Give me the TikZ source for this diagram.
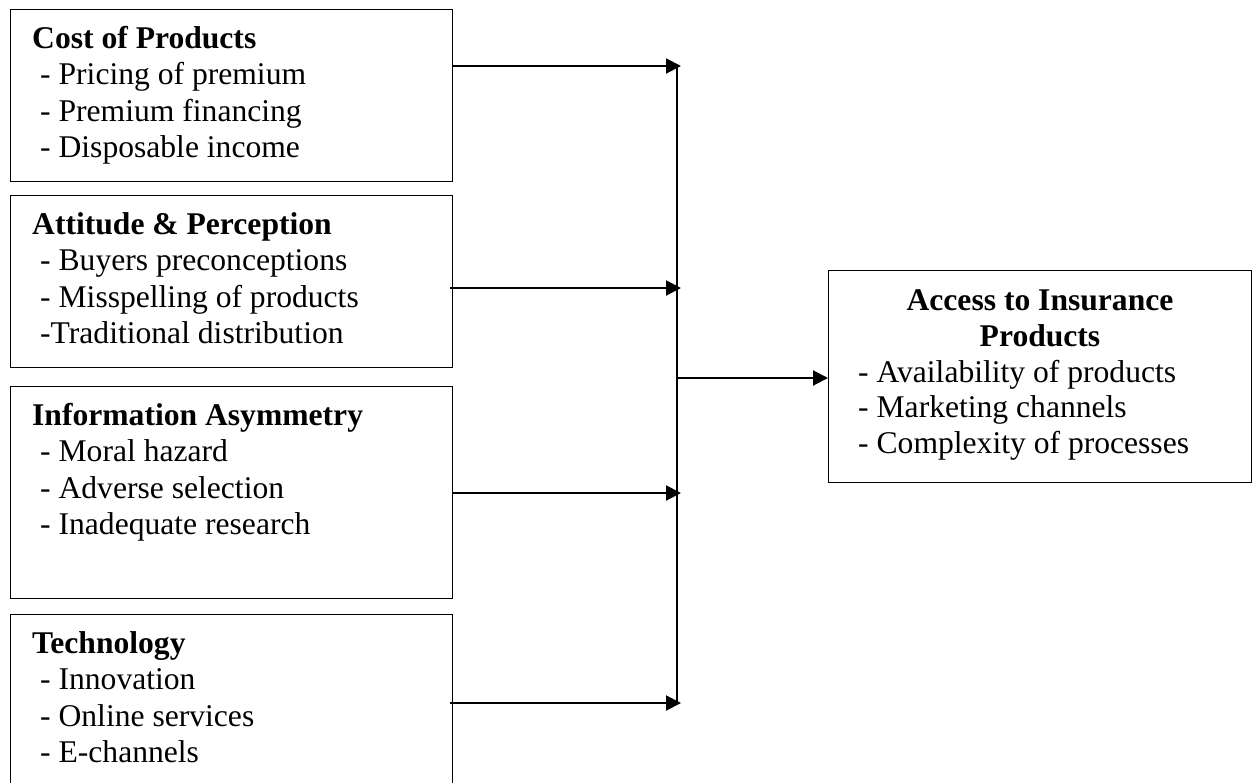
\documentclass[tikz,border=0pt]{standalone}
\usepackage{fontspec}
\setmainfont{Liberation Serif}
\usetikzlibrary{arrows.meta,calc}
\begin{document}
\begin{tikzpicture}[x=1pt,y=-1pt,
  box/.style={draw,line width=1.3pt,inner sep=0pt,anchor=north west},
  txt/.style={anchor=base west,inner sep=0pt,font=\fontsize{31.6}{36.5}\selectfont},
  ttl/.style={anchor=base west,inner sep=0pt,font=\fontsize{31.6}{36.5}\selectfont\bfseries},
  ctl/.style={anchor=base,inner sep=0pt,font=\fontsize{31.6}{36.5}\selectfont\bfseries},
  arr/.style={line width=2pt,-{Triangle[length=15pt,width=15pt]}},
  bus/.style={line width=2pt}]
\useasboundingbox (0,0) rectangle (1252,782);
\clip (0,0) rectangle (1252,782);
\fill[white] (0,0) rectangle (1252,782);

% left boxes
\node[box,minimum width=442pt,minimum height=172pt] (cost) at (10,9) {};
\node[box,minimum width=442pt,minimum height=172pt] (att) at (10,195) {};
\node[box,minimum width=442pt,minimum height=212pt] (info) at (10,386) {};
\node[box,minimum width=442pt,minimum height=172pt] (tech) at (10,614) {};
% right box
\node[box,minimum width=423pt,minimum height=212pt] (acc) at (828,270) {};

% texts box 1
\node[ttl] (c0) at (32,48) {Cost of Products};
\node[txt] (c1) at (40,84.5) {- Pricing of premium};
\node[txt] (c2) at (40,121) {- Premium financing};
\node[txt] (c3) at (40,157.5) {- Disposable income};
% texts box 2
\node[ttl] (a0) at (32,234) {Attitude \& Perception};
\node[txt] (a1) at (40,270.5) {- Buyers preconceptions};
\node[txt] (a2) at (40,307) {- Misspelling of products};
\node[txt] (a3) at (40,343.5) {-Traditional distribution};
% texts box 3
\node[ttl] (i0) at (32,425) {Information Asymmetry};
\node[txt] (i1) at (40,461.5) {- Moral hazard};
\node[txt] (i2) at (40,498) {- Adverse selection};
\node[txt] (i3) at (40,534.5) {- Inadequate research};
% texts box 4
\node[ttl] (t0) at (32,653) {Technology};
\node[txt] (t1) at (40,689.5) {- Innovation};
\node[txt] (t2) at (40,726) {- Online services};
\node[txt] (t3) at (40,762.5) {- E-channels};
% right box texts
\node[ctl] (r0) at (1040,310) {Access to Insurance};
\node[ctl] (r1) at (1040,346) {Products};
\node[txt] (r2) at (858,382) {- Availability of products};
\node[txt] (r3) at (858,417.5) {- Marketing channels};
\node[txt] (r4) at (858,453) {- Complexity of processes};

% connectors
\coordinate (j1) at (681,66);
\coordinate (j2) at (681,288);
\coordinate (j3) at (681,493);
\coordinate (j4) at (681,703);
\coordinate (btop) at (677,66);
\coordinate (bbot) at (677,703);
\coordinate (bmid) at (677,378);

\draw[arr] (j1 -| cost.east) -- (j1);
\draw[arr] ([xshift=-3pt]j2 -| att.east) -- (j2);
\draw[arr] (j3 -| info.east) -- (j3);
\draw[arr] ([xshift=-3pt]j4 -| tech.east) -- (j4);
\draw[bus] (btop) -- (bbot);
\draw[arr] (bmid) -- (bmid -| acc.west);
\end{tikzpicture}
\end{document}
